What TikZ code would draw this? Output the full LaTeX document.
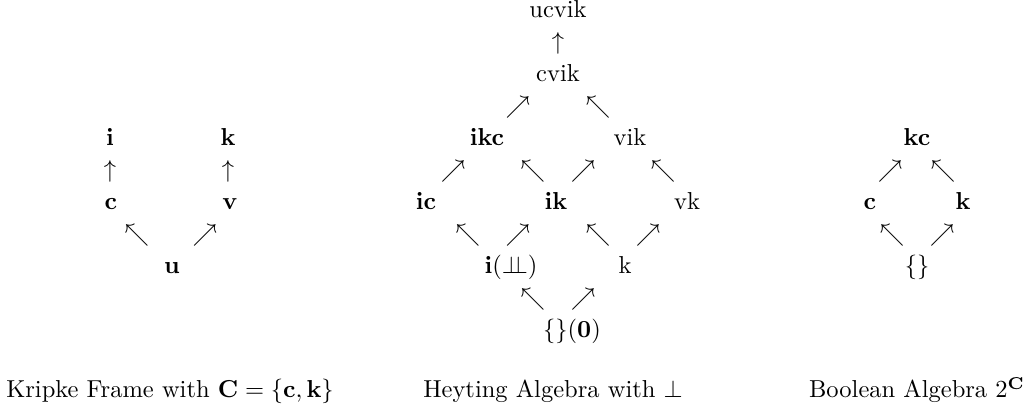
\documentclass[tikz,border=0pt]{standalone}
\usepackage{amsmath}
\usepackage{tikz}
\usetikzlibrary{positioning}
\tikzset{
  elem/.style={anchor=base, inner sep=0pt},
  arr/.style={anchor=base, inner sep=0pt},
  caption/.style={anchor=base, inner sep=0pt}
}

\begin{document}
\begin{tikzpicture}[x=0.408pt,y=-0.408pt]
    \useasboundingbox (0,0) rectangle (1029,414);
    % Kripke frame
    \node[elem] (kri) at (110,146) {$\mathbf{i}$};
    \node[elem] (krk) at (228,146) {$\mathbf{k}$};
    \node[arr]  (kra1) at (110,178) {$\uparrow$};
    \node[arr]  (kra2) at (228,178) {$\uparrow$};
    \node[elem] (krc) at (111,210) {$\mathbf{c}$};
    \node[elem] (krv) at (230,210) {$\mathbf{v}$};
    \node[arr]  (kra3) at (137,242) {$\nwarrow$};
    \node[arr]  (kra4) at (205,242) {$\nearrow$};
    \node[elem] (kru) at (172,274) {$\mathbf{u}$};
    \node[caption] (krcap) at (170,398) {Kripke Frame with $\mathbf{C}=\{\mathbf{c},\mathbf{k}\}$};

    % Heyting algebra
    \node[elem] (ucvik) at (558,18) {ucvik};
    \node[arr]  (ha1) at (558,50) {$\uparrow$};
    \node[elem] (cvik) at (558,82) {cvik};
    \node[arr]  (ha2) at (518,114) {$\nearrow$};
    \node[arr]  (ha3) at (598,114) {$\nwarrow$};
    \node[elem] (ikc) at (487,146) {$\mathbf{ikc}$};
    \node[elem] (vik) at (630,146) {vik};
    \node[arr]  (ha4) at (453,178) {$\nearrow$};
    \node[arr]  (ha5) at (533,178) {$\nwarrow$};
    \node[arr]  (ha6) at (583,178) {$\nearrow$};
    \node[arr]  (ha7) at (663,178) {$\nwarrow$};
    \node[elem] (ic) at (426,210) {$\mathbf{ic}$};
    \node[elem] (ik) at (556,210) {$\mathbf{ik}$};
    \node[elem] (vk) at (687,210) {vk};
    \node[arr]  (ha8) at (468,242) {$\nwarrow$};
    \node[arr]  (ha9) at (518,242) {$\nearrow$};
    \node[arr]  (ha10) at (598,242) {$\nwarrow$};
    \node[arr]  (ha11) at (648,242) {$\nearrow$};
    \node[elem] (ibot) at (511,274) {$\mathbf{i}(\perp\!\!\!\perp)$};
    \node[elem] (hak) at (625,274) {k};
    \node[arr]  (ha12) at (533,306) {$\nwarrow$};
    \node[arr]  (ha13) at (583,306) {$\nearrow$};
    \node[elem] (zero) at (572,338) {$\{\}(\mathbf{0})$};
    \node[caption] (hacap) at (553,398) {Heyting Algebra with $\bot$};

    % Boolean algebra
    \node[elem] (bakc) at (917,146) {$\mathbf{kc}$};
    \node[arr]  (ba1) at (890,178) {$\nearrow$};
    \node[arr]  (ba2) at (943,178) {$\nwarrow$};
    \node[elem] (bac) at (870,210) {$\mathbf{c}$};
    \node[elem] (bak) at (963,210) {$\mathbf{k}$};
    \node[arr]  (ba3) at (892,242) {$\nwarrow$};
    \node[arr]  (ba4) at (942,242) {$\nearrow$};
    \node[elem] (baempty) at (917,274) {$\{\}$};
    \node[caption] (bacap) at (917,398) {Boolean Algebra $2^{\mathbf{C}}$};
\end{tikzpicture}
\end{document}
